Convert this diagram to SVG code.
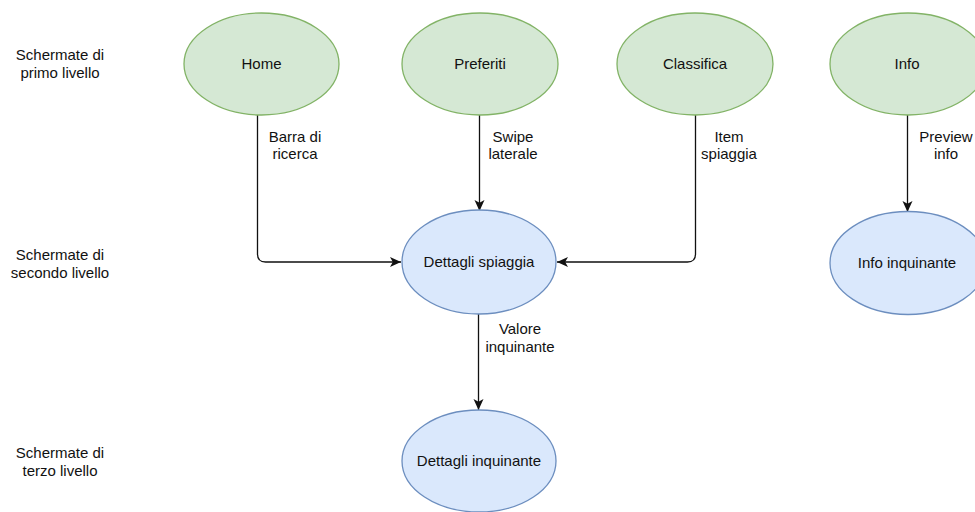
<svg xmlns="http://www.w3.org/2000/svg" width="975" height="512" viewBox="0 0 975 512">
  <style>
    text { font-family: "Liberation Sans", Arial, Helvetica, sans-serif; font-size: 15px; fill: #111; text-anchor: middle; }
    .lvl1 ellipse { fill: #d5e8d4; stroke: #82b366; stroke-width: 1.3; }
    .lvl2 ellipse { fill: #dae8fc; stroke: #6c8ebf; stroke-width: 1.3; }
    #connectors path { fill: none; stroke: #111; stroke-width: 1.3; }
  </style>
  <defs>
    <marker id="arrow" viewBox="0 0 11 11" refX="11" refY="5.5" markerWidth="11" markerHeight="11" markerUnits="userSpaceOnUse" orient="auto">
      <path d="M0,0.5 L11,5.5 L0,10.5 L2.8,5.5 Z" fill="#111"/>
    </marker>
  </defs>
  <rect width="975" height="512" fill="#fff"/>

  <!-- level captions -->
  <g id="captions">
    <text x="60" y="60">Schermate di</text>
    <text x="60" y="78">primo livello</text>
    <text x="60" y="260">Schermate di</text>
    <text x="60" y="278">secondo livello</text>
    <text x="60" y="458">Schermate di</text>
    <text x="60" y="476">terzo livello</text>
  </g>

  <!-- connectors -->
  <g id="connectors">
    <path d="M257.5,115 V254 Q257.5,262 265.5,262 H401" marker-end="url(#arrow)"/>
    <path d="M479.5,115 V211" marker-end="url(#arrow)"/>
    <path d="M695.5,115 V254 Q695.5,262 687.5,262 H557" marker-end="url(#arrow)"/>
    <path d="M907.5,115 V212" marker-end="url(#arrow)"/>
    <path d="M478.5,314 V410" marker-end="url(#arrow)"/>
    <text x="295" y="142">Barra di</text>
    <text x="295" y="159">ricerca</text>
    <text x="513" y="142">Swipe</text>
    <text x="513" y="159">laterale</text>
    <text x="729" y="142">Item</text>
    <text x="729" y="159">spiaggia</text>
    <text x="946" y="142">Preview</text>
    <text x="946" y="159">info</text>
    <text x="520" y="334">Valore</text>
    <text x="520" y="352">inquinante</text>
  </g>

  <!-- first-level screens -->
  <g id="home" class="lvl1">
    <ellipse cx="261.5" cy="64" rx="77.5" ry="51"/>
    <text x="261.5" y="69">Home</text>
  </g>
  <g id="preferiti" class="lvl1">
    <ellipse cx="480" cy="64" rx="78" ry="51"/>
    <text x="480" y="69">Preferiti</text>
  </g>
  <g id="classifica" class="lvl1">
    <ellipse cx="695" cy="64" rx="78" ry="51"/>
    <text x="695" y="69">Classifica</text>
  </g>
  <g id="info" class="lvl1">
    <ellipse cx="908" cy="64" rx="78" ry="51"/>
    <text x="907" y="69">Info</text>
  </g>

  <!-- second-level screens -->
  <g id="dettagli-spiaggia" class="lvl2">
    <ellipse cx="479" cy="262" rx="77" ry="52"/>
    <text x="479" y="267">Dettagli spiaggia</text>
  </g>
  <g id="info-inquinante" class="lvl2">
    <ellipse cx="908" cy="263" rx="78" ry="51.5"/>
    <text x="907" y="268">Info inquinante</text>
  </g>

  <!-- third-level screens -->
  <g id="dettagli-inquinante" class="lvl2">
    <ellipse cx="479" cy="461" rx="77" ry="51"/>
    <text x="479" y="466">Dettagli inquinante</text>
  </g>
</svg>
